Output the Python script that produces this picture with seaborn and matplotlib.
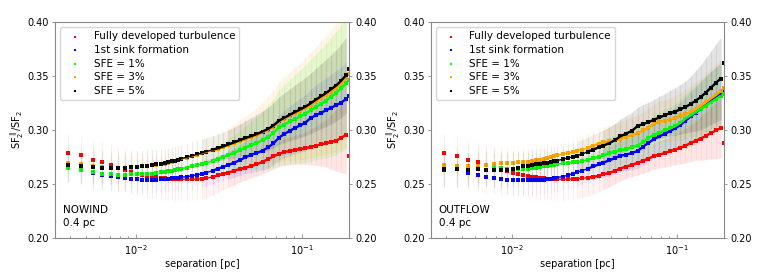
import numpy as np
import pandas as pd
import matplotlib
matplotlib.use("Agg")
import matplotlib.pyplot as plt
from matplotlib.ticker import FormatStrFormatter
import seaborn as sns

# grid index of the separation (box of 0.4 pc on 512 cells)
box_size = 0.4
n_cells = [5, 6, 7, 8, 9, 10, 11, 12, 13, 14, 15, 16, 17, 18, 19, 20, 21, 22, 23, 24,
           26, 28, 30, 32, 34, 37, 40, 43, 46, 50, 54, 58, 63, 68, 74, 80, 86, 93, 100, 108,
           116, 125, 134, 144, 155, 166, 178, 191, 205, 220, 235, 246]

labels = ["Fully developed turbulence", "1st sink formation", "SFE = 1%", "SFE = 3%", "SFE = 5%"]
colors = ["red", "blue", "lime", "orange", "black"]

# ---------------- NOWIND ----------------
nw_red = [0.279, 0.2765, 0.2725, 0.270, 0.2677, 0.265, 0.2625, 0.261, 0.2595, 0.2585, 0.2575, 0.257, 0.2563, 0.2558, 0.2553, 0.255, 0.2547, 0.2545, 0.2543, 0.2542,
          0.2542, 0.2543, 0.2545, 0.2548, 0.2553, 0.2565, 0.258, 0.2593, 0.2605, 0.2622, 0.2638, 0.2648, 0.2665, 0.268, 0.2705, 0.273, 0.2755, 0.278, 0.2795, 0.2805,
          0.2815, 0.2822, 0.283, 0.2842, 0.2855, 0.2865, 0.2875, 0.2888, 0.290, 0.2925, 0.2955, 0.2755]
nw_blue = [0.2667, 0.2636, 0.260, 0.2587, 0.2574, 0.2562, 0.2553, 0.2546, 0.2542, 0.2539, 0.2537, 0.2538, 0.254, 0.2543, 0.2546, 0.2549, 0.2552, 0.2555, 0.2558, 0.2562,
           0.2568, 0.2576, 0.2585, 0.2595, 0.2605, 0.2622, 0.2642, 0.2658, 0.2675, 0.2697, 0.272, 0.2745, 0.2768, 0.2785, 0.2808, 0.2838, 0.2875, 0.2928, 0.2962, 0.2992,
           0.3018, 0.3043, 0.3066, 0.311, 0.3135, 0.3158, 0.318, 0.3205, 0.3228, 0.3252, 0.3285, 0.331]
nw_green = [0.2651, 0.2627, 0.2611, 0.2596, 0.259, 0.2587, 0.2587, 0.2588, 0.2588, 0.2589, 0.2591, 0.2594, 0.26, 0.2606, 0.2612, 0.2618, 0.2624, 0.263, 0.2636, 0.2642,
            0.2652, 0.2662, 0.2672, 0.2684, 0.2696, 0.2714, 0.2735, 0.2752, 0.277, 0.279, 0.2812, 0.2835, 0.286, 0.288, 0.2905, 0.2935, 0.297, 0.3025, 0.305, 0.3078,
            0.310, 0.3125, 0.315, 0.318, 0.3213, 0.324, 0.327, 0.3305, 0.334, 0.3385, 0.343, 0.3465]
nw_orange = [0.2691, 0.2682, 0.2668, 0.2658, 0.265, 0.2648, 0.2648, 0.2652, 0.2657, 0.2662, 0.2667, 0.2672, 0.2677, 0.2683, 0.2689, 0.2696, 0.2703, 0.2711, 0.272, 0.273,
             0.2742, 0.2756, 0.2769, 0.2782, 0.2794, 0.281, 0.2826, 0.2842, 0.2859, 0.2879, 0.2898, 0.2916, 0.2935, 0.2953, 0.2977, 0.3002, 0.3031, 0.3075, 0.3102, 0.3128,
             0.3152, 0.3176, 0.32, 0.3229, 0.3263, 0.3292, 0.3321, 0.3354, 0.3387, 0.343, 0.3478, 0.352]
nw_black = [0.2679, 0.267, 0.2657, 0.2651, 0.2645, 0.2645, 0.2648, 0.2654, 0.266, 0.2665, 0.267, 0.2676, 0.2681, 0.2687, 0.2693, 0.27, 0.2708, 0.2716, 0.2725, 0.2735,
            0.2748, 0.2762, 0.2775, 0.2788, 0.28, 0.2816, 0.2832, 0.2848, 0.2865, 0.2885, 0.2905, 0.2923, 0.2942, 0.296, 0.2985, 0.301, 0.304, 0.3085, 0.3112, 0.314,
            0.3165, 0.319, 0.3215, 0.3245, 0.328, 0.331, 0.334, 0.3375, 0.341, 0.3455, 0.3505, 0.356]

nw_red_err = [0.0185, 0.019, 0.019, 0.019, 0.0195, 0.0195, 0.0195, 0.02, 0.02, 0.02, 0.02, 0.02, 0.02, 0.02, 0.02, 0.02, 0.02, 0.02, 0.02, 0.02,
              0.02, 0.0195, 0.019, 0.0185, 0.018, 0.017, 0.016, 0.015, 0.014, 0.013, 0.012, 0.0115, 0.011, 0.011, 0.011, 0.0115, 0.012, 0.012, 0.0125, 0.013,
              0.0135, 0.014, 0.015, 0.0165, 0.018, 0.02, 0.022, 0.025, 0.028, 0.032, 0.036, 0.037]
nw_blue_err = [0.014, 0.014, 0.014, 0.0135, 0.0135, 0.0135, 0.013, 0.013, 0.013, 0.013, 0.0125, 0.0125, 0.0125, 0.0125, 0.012, 0.012, 0.012, 0.012, 0.012, 0.012,
               0.012, 0.012, 0.012, 0.012, 0.012, 0.012, 0.0125, 0.0125, 0.013, 0.0135, 0.014, 0.015, 0.016, 0.017, 0.018, 0.019, 0.02, 0.021, 0.022, 0.023,
               0.024, 0.025, 0.026, 0.027, 0.028, 0.029, 0.03, 0.031, 0.032, 0.033, 0.034, 0.035]
nw_green_err = [0.016, 0.016, 0.0155, 0.0155, 0.015, 0.015, 0.015, 0.0145, 0.0145, 0.014, 0.014, 0.014, 0.0135, 0.0135, 0.013, 0.013, 0.013, 0.013, 0.0125, 0.0125,
                0.0125, 0.0125, 0.0125, 0.0125, 0.013, 0.013, 0.0135, 0.014, 0.015, 0.016, 0.018, 0.02, 0.022, 0.024, 0.027, 0.03, 0.032, 0.035, 0.037, 0.039,
                0.041, 0.043, 0.045, 0.047, 0.049, 0.051, 0.053, 0.055, 0.057, 0.059, 0.061, 0.062]
nw_orange_err = [0.017, 0.017, 0.0165, 0.0165, 0.016, 0.016, 0.016, 0.0155, 0.0155, 0.015, 0.015, 0.015, 0.0145, 0.0145, 0.014, 0.014, 0.014, 0.014, 0.0135, 0.0135,
                 0.0135, 0.0135, 0.0135, 0.0135, 0.014, 0.014, 0.0145, 0.015, 0.016, 0.017, 0.019, 0.021, 0.023, 0.025, 0.028, 0.031, 0.034, 0.037, 0.039, 0.041,
                 0.043, 0.045, 0.047, 0.049, 0.051, 0.053, 0.055, 0.057, 0.059, 0.061, 0.063, 0.064]
nw_black_err = [0.016, 0.016, 0.0155, 0.0155, 0.015, 0.015, 0.015, 0.0145, 0.0145, 0.014, 0.014, 0.014, 0.0135, 0.0135, 0.013, 0.013, 0.013, 0.013, 0.0125, 0.0125,
                0.0125, 0.0125, 0.0125, 0.0125, 0.0125, 0.0125, 0.013, 0.013, 0.0135, 0.014, 0.015, 0.016, 0.017, 0.018, 0.019, 0.02, 0.021, 0.022, 0.023, 0.024,
                0.025, 0.026, 0.027, 0.028, 0.029, 0.03, 0.031, 0.032, 0.033, 0.034, 0.035, 0.036]

# ---------------- OUTFLOW ----------------
of_red = [0.279, 0.2762, 0.2725, 0.270, 0.2678, 0.2655, 0.2635, 0.2617, 0.2603, 0.2592, 0.2582, 0.2573, 0.2566, 0.256, 0.2555, 0.2551, 0.2548, 0.2546, 0.2544, 0.2543,
          0.2543, 0.2544, 0.2546, 0.2549, 0.2552, 0.2558, 0.2565, 0.2575, 0.2588, 0.2603, 0.2622, 0.2642, 0.266, 0.2675, 0.2695, 0.2715, 0.2735, 0.2758, 0.2772, 0.2785,
          0.2802, 0.2818, 0.2835, 0.2855, 0.2878, 0.29, 0.292, 0.2945, 0.297, 0.2995, 0.3018, 0.2875]
of_blue = [0.2633, 0.2636, 0.2599, 0.2585, 0.2568, 0.2553, 0.2545, 0.254, 0.2537, 0.2535, 0.2535, 0.2535, 0.2535, 0.2537, 0.2538, 0.254, 0.2543, 0.2547, 0.2552, 0.2558,
           0.2568, 0.258, 0.2595, 0.261, 0.2622, 0.2642, 0.2662, 0.268, 0.2698, 0.2718, 0.274, 0.276, 0.2772, 0.2785, 0.2805, 0.2845, 0.288, 0.2915, 0.294, 0.2965,
           0.2988, 0.3015, 0.3045, 0.3085, 0.3125, 0.316, 0.3195, 0.3235, 0.3272, 0.3305, 0.3335, 0.335]
of_green = [0.2668, 0.2668, 0.2655, 0.2668, 0.2672, 0.2655, 0.2645, 0.264, 0.2638, 0.2637, 0.2637, 0.2642, 0.2647, 0.2652, 0.2657, 0.2662, 0.2667, 0.2672, 0.2677, 0.2683,
            0.269, 0.2695, 0.27, 0.2705, 0.271, 0.2725, 0.274, 0.2752, 0.2765, 0.2785, 0.28, 0.2812, 0.2822, 0.284, 0.2855, 0.2885, 0.2925, 0.2955, 0.2975, 0.2995,
            0.3015, 0.3035, 0.3065, 0.3105, 0.3135, 0.3165, 0.3195, 0.3225, 0.3255, 0.3285, 0.3315, 0.333]
of_orange = [0.2677, 0.2668, 0.2663, 0.2665, 0.2672, 0.2688, 0.2691, 0.2691, 0.2697, 0.27, 0.2702, 0.2707, 0.2712, 0.2718, 0.2725, 0.2733, 0.2741, 0.2749, 0.2757, 0.2765,
             0.2775, 0.2785, 0.2797, 0.2808, 0.2818, 0.2835, 0.2855, 0.287, 0.2885, 0.2895, 0.2905, 0.2918, 0.2935, 0.295, 0.297, 0.2995, 0.302, 0.3055, 0.3075, 0.3085,
             0.3095, 0.311, 0.3125, 0.3145, 0.317, 0.3195, 0.3222, 0.3255, 0.329, 0.3322, 0.3358, 0.339]
of_black = [0.2637, 0.2635, 0.2633, 0.2634, 0.2633, 0.2627, 0.2627, 0.263, 0.2639, 0.2651, 0.2662, 0.2668, 0.2675, 0.268, 0.2685, 0.269, 0.2696, 0.2702, 0.2709, 0.2716,
            0.2728, 0.274, 0.275, 0.2763, 0.2775, 0.2798, 0.2818, 0.2838, 0.2855, 0.2878, 0.2905, 0.294, 0.2965, 0.299, 0.3035, 0.3055, 0.307, 0.3095, 0.3115, 0.3135,
            0.3155, 0.317, 0.319, 0.3212, 0.324, 0.327, 0.3302, 0.3345, 0.339, 0.3435, 0.3475, 0.3615]

of_red_err = [0.0185, 0.019, 0.019, 0.019, 0.0195, 0.0195, 0.0195, 0.02, 0.02, 0.02, 0.02, 0.02, 0.02, 0.02, 0.02, 0.02, 0.02, 0.02, 0.02, 0.02,
              0.02, 0.0195, 0.019, 0.0185, 0.018, 0.017, 0.016, 0.015, 0.014, 0.013, 0.012, 0.0115, 0.011, 0.011, 0.011, 0.0115, 0.012, 0.012, 0.0125, 0.013,
              0.0135, 0.014, 0.015, 0.016, 0.017, 0.018, 0.02, 0.022, 0.024, 0.026, 0.028, 0.029]
of_blue_err = [0.016, 0.016, 0.0155, 0.0155, 0.015, 0.015, 0.015, 0.0145, 0.0145, 0.014, 0.014, 0.014, 0.0135, 0.0135, 0.013, 0.013, 0.013, 0.013, 0.0125, 0.0125,
               0.0125, 0.0125, 0.0125, 0.0125, 0.0125, 0.0125, 0.013, 0.013, 0.0135, 0.014, 0.014, 0.0145, 0.015, 0.0155, 0.016, 0.0165, 0.017, 0.0175, 0.018, 0.0185,
               0.019, 0.02, 0.021, 0.022, 0.023, 0.024, 0.025, 0.026, 0.027, 0.028, 0.029, 0.03]
of_green_err = [0.017, 0.017, 0.0165, 0.0165, 0.016, 0.016, 0.016, 0.0155, 0.0155, 0.015, 0.015, 0.015, 0.0145, 0.0145, 0.014, 0.014, 0.014, 0.014, 0.0135, 0.0135,
                0.0135, 0.0135, 0.0135, 0.0135, 0.0135, 0.0135, 0.014, 0.014, 0.0145, 0.015, 0.015, 0.0155, 0.016, 0.0165, 0.017, 0.0175, 0.018, 0.0185, 0.019, 0.0195,
                0.02, 0.021, 0.022, 0.023, 0.024, 0.025, 0.026, 0.027, 0.028, 0.029, 0.03, 0.031]
of_orange_err = [0.017, 0.017, 0.0165, 0.0165, 0.016, 0.016, 0.016, 0.0155, 0.0155, 0.015, 0.015, 0.015, 0.0145, 0.0145, 0.014, 0.014, 0.014, 0.014, 0.0135, 0.0135,
                 0.0135, 0.0135, 0.0135, 0.0135, 0.0135, 0.0135, 0.014, 0.014, 0.0145, 0.015, 0.015, 0.0155, 0.016, 0.0165, 0.017, 0.0175, 0.018, 0.0185, 0.019, 0.0195,
                 0.02, 0.021, 0.022, 0.023, 0.024, 0.025, 0.026, 0.027, 0.028, 0.029, 0.03, 0.031]
of_black_err = [0.017, 0.017, 0.0165, 0.0165, 0.016, 0.016, 0.016, 0.0155, 0.0155, 0.015, 0.015, 0.015, 0.0145, 0.0145, 0.014, 0.014, 0.014, 0.014, 0.0135, 0.0135,
                0.0135, 0.0135, 0.0135, 0.0135, 0.0135, 0.0135, 0.014, 0.014, 0.0145, 0.015, 0.0155, 0.016, 0.0165, 0.017, 0.0175, 0.018, 0.0185, 0.019, 0.0195, 0.02,
                0.021, 0.022, 0.023, 0.024, 0.026, 0.028, 0.03, 0.032, 0.034, 0.036, 0.038, 0.04]

separation = np.array(n_cells) * box_size / 512
band_alpha = [0.09, 0.08, 0.09, 0.08, 0.1]


def draw_panel(ax, values, errors, run_name):
    # error bars (thin lines), shaded where the points get dense
    for col, a, y, e in zip(colors, band_alpha, values, errors):
        y = np.array(y)
        e = np.array(e)
        ax.errorbar(separation, y, yerr=e, fmt="none", ecolor=col, elinewidth=0.9, alpha=0.06)
        ax.fill_between(separation[23:-1], (y - e)[23:-1], (y + e)[23:-1], color=col, alpha=a * 0.5, lw=0)
        ax.fill_between(separation[28:-1], (y - e)[28:-1], (y + e)[28:-1], color=col, alpha=a * 0.6, lw=0)
    for lab, col, y in zip(labels, colors, values):
        df = pd.DataFrame({"sep": separation, "ratio": y})
        ax.plot(df["sep"][19:-1], df["ratio"][19:-1], color=col, lw=1.0, solid_capstyle="butt")
        ax.plot(df["sep"][25:-1], df["ratio"][25:-1], color=col, lw=1.7, solid_capstyle="butt")
        sns.scatterplot(x="sep", y="ratio", data=df, color=col, s=5, marker="s", linewidth=0, label=lab, ax=ax)

    ax.set_xscale("log")
    ax.set_xlim(0.00325, 0.1922)
    ax.set_ylim(0.2, 0.4)
    ax.set_yticks([0.20, 0.25, 0.30, 0.35, 0.40])
    ax.yaxis.set_major_formatter(FormatStrFormatter("%.2f"))
    ax.set_xlabel("separation [pc]", fontsize=7, labelpad=2)
    ax.set_ylabel(r"SF$_2^{\parallel}$/SF$_2$", fontsize=7, labelpad=1)
    ax.tick_params(axis="y", which="both", direction="out", right=True, labelright=True,
                   labelsize=7, length=2.5, width=0.6, pad=2, color="#888888")
    ax.tick_params(axis="x", which="both", direction="in", labelsize=7, color="#888888", width=0.6)
    ax.tick_params(axis="x", which="major", length=3)
    ax.tick_params(axis="x", which="minor", length=1.5)
    for sp in ax.spines.values():
        sp.set_color("#888888")
        sp.set_linewidth(0.8)
    ax.legend(loc="upper left", fontsize=7.5, markerscale=0.9, framealpha=0.8, edgecolor="#cccccc",
              labelspacing=0.35)
    ax.text(0.027, 0.045, run_name + "\n0.4 pc", transform=ax.transAxes, fontsize=7.5,
            ha="left", va="bottom", linespacing=1.35)


fig = plt.figure(figsize=(7.64, 2.77), dpi=100)
ax1 = fig.add_axes([0.072, 0.141, 0.385, 0.780])
ax2 = fig.add_axes([0.564, 0.141, 0.3835, 0.780])

draw_panel(ax1, [nw_red, nw_blue, nw_green, nw_orange, nw_black],
           [nw_red_err, nw_blue_err, nw_green_err, nw_orange_err, nw_black_err], "NOWIND")
draw_panel(ax2, [of_red, of_blue, of_green, of_orange, of_black],
           [of_red_err, of_blue_err, of_green_err, of_orange_err, of_black_err], "OUTFLOW")

fig.savefig("out.png", dpi=100)
